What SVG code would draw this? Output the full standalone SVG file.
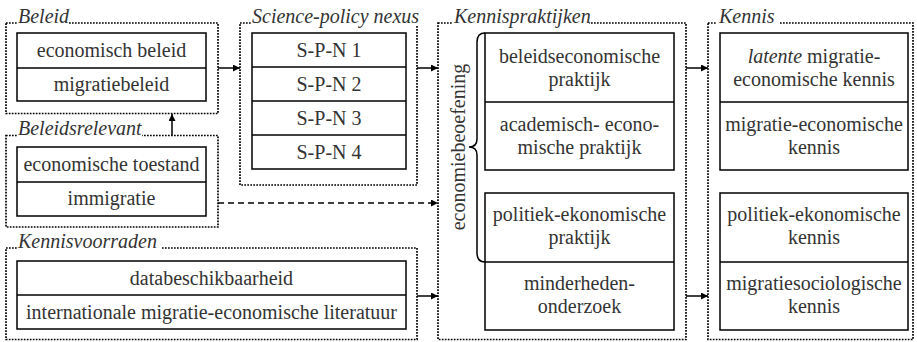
<svg xmlns="http://www.w3.org/2000/svg" width="917" height="342" viewBox="0 0 917 342">
<style>
.grp{fill:none;stroke:#000;stroke-width:1.7;stroke-dasharray:1.7 1.3}
.box{fill:#fff;stroke:#000;stroke-width:1.5}
.div{stroke:#000;stroke-width:1.5}
text{font-family:'Liberation Serif','DejaVu Serif',serif;font-size:20px;fill:#333}
.t{text-anchor:middle}
.ti{font-style:italic}
.bg{fill:#fff}
.c{stroke:#000;stroke-width:1.5;fill:none}
.d{stroke:#000;stroke-width:1.5;fill:none;stroke-dasharray:6 4}
</style>
<defs>
<marker id="ah" viewBox="0 0 10 10" refX="10" refY="5" markerWidth="7" markerHeight="7" markerUnits="userSpaceOnUse" orient="auto">
<path d="M0,0 L10,5 L0,10 Z" fill="#000"/>
</marker>
</defs>

<g id="beleid">
<rect class="grp" x="6" y="23" width="212" height="90.5"/>
<rect class="bg" x="17" y="10" width="52" height="15"/>
<text class="ti" x="18" y="22.5">Beleid</text>
<rect class="box" x="17" y="33" width="189" height="68"/>
<line class="div" x1="17" y1="68" x2="206" y2="68"/>
<text class="t" x="111.5" y="57">economisch beleid</text>
<text class="t" x="111.5" y="91">migratiebeleid</text>
</g>

<g id="beleidsrelevant">
<rect class="grp" x="6" y="135.5" width="212" height="91.5"/>
<rect class="bg" x="17" y="122" width="125" height="15"/>
<text class="ti" x="18" y="135">Beleidsrelevant</text>
<rect class="box" x="17" y="147" width="189" height="69"/>
<line class="div" x1="17" y1="182" x2="206" y2="182"/>
<text class="t" x="111.5" y="171">economische toestand</text>
<text class="t" x="111.5" y="205">immigratie</text>
</g>

<g id="kennisvoorraden">
<rect class="grp" x="6" y="248" width="411" height="91.5"/>
<rect class="bg" x="17" y="234" width="144" height="16"/>
<text class="ti" x="18" y="247.5">Kennisvoorraden</text>
<rect class="box" x="17" y="261" width="389" height="68"/>
<line class="div" x1="17" y1="295" x2="406" y2="295"/>
<text class="t" x="211.5" y="284.5">databeschikbaarheid</text>
<text class="t" x="211.5" y="318.5">internationale migratie-economische literatuur</text>
</g>

<g id="spn">
<rect class="grp" x="240" y="23" width="177" height="162"/>
<rect class="bg" x="251" y="9" width="168" height="16"/>
<text class="ti" x="252" y="22.5">Science-policy nexus</text>
<rect class="box" x="252" y="33" width="154" height="136"/>
<line class="div" x1="252" y1="67" x2="406" y2="67"/>
<line class="div" x1="252" y1="101" x2="406" y2="101"/>
<line class="div" x1="252" y1="135" x2="406" y2="135"/>
<text class="t" x="329" y="57">S-P-N 1</text>
<text class="t" x="329" y="91">S-P-N 2</text>
<text class="t" x="329" y="125">S-P-N 3</text>
<text class="t" x="329" y="159">S-P-N 4</text>
</g>

<g id="kennispraktijken">
<rect class="grp" x="438" y="23" width="248" height="316.5"/>
<rect class="bg" x="452" y="9" width="137" height="16"/>
<text class="ti" x="454" y="22.5">Kennispraktijken</text>
<text class="t" transform="translate(465,147) rotate(-90)">economiebeoefening</text>
<path class="c" d="M485,33 Q477,33 477,42 L477,139 Q477,147 469,147 Q477,147 477,155 L477,253 Q477,262 485,262"/>
<rect class="box" x="485" y="33" width="189" height="137"/>
<line class="div" x1="485" y1="102" x2="674" y2="102"/>
<text class="t" x="579.5" y="63">beleidseconomische</text>
<text class="t" x="579.5" y="86">praktijk</text>
<text class="t" x="579.5" y="131">academisch- econo-</text>
<text class="t" x="579.5" y="154">mische praktijk</text>
<rect class="box" x="485" y="193" width="189" height="137"/>
<line class="div" x1="485" y1="262" x2="674" y2="262"/>
<text class="t" x="579.5" y="221">politiek-ekonomische</text>
<text class="t" x="579.5" y="244">praktijk</text>
<text class="t" x="579.5" y="290">minderheden-</text>
<text class="t" x="579.5" y="313">onderzoek</text>
</g>

<g id="kennis">
<rect class="grp" x="708" y="23" width="205" height="316.5"/>
<rect class="bg" x="717" y="9" width="63" height="16"/>
<text class="ti" x="719" y="22.5">Kennis</text>
<rect class="box" x="720" y="33" width="188" height="137"/>
<line class="div" x1="720" y1="102" x2="908" y2="102"/>
<text class="t" x="814" y="63"><tspan font-style="italic">latente</tspan> migratie-</text>
<text class="t" x="814" y="86">economische kennis</text>
<text class="t" x="814" y="131">migratie-economische</text>
<text class="t" x="814" y="154">kennis</text>
<rect class="box" x="720" y="193" width="188" height="137"/>
<line class="div" x1="720" y1="262" x2="908" y2="262"/>
<text class="t" x="814" y="221">politiek-ekonomische</text>
<text class="t" x="814" y="244">kennis</text>
<text class="t" x="814" y="290">migratiesociologische</text>
<text class="t" x="814" y="313">kennis</text>
</g>

<g id="connectors">
<line class="c" x1="218" y1="68" x2="240" y2="68" marker-end="url(#ah)"/>
<line class="c" x1="172" y1="135.5" x2="172" y2="114" marker-end="url(#ah)"/>
<line class="c" x1="417" y1="68" x2="438" y2="68" marker-end="url(#ah)"/>
<line class="d" x1="218" y1="203" x2="438" y2="203" marker-end="url(#ah)"/>
<line class="c" x1="417" y1="296" x2="438" y2="296" marker-end="url(#ah)"/>
<line class="c" x1="686" y1="68" x2="708" y2="68" marker-end="url(#ah)"/>
<line class="c" x1="686" y1="296" x2="708" y2="296" marker-end="url(#ah)"/>
</g>
</svg>
